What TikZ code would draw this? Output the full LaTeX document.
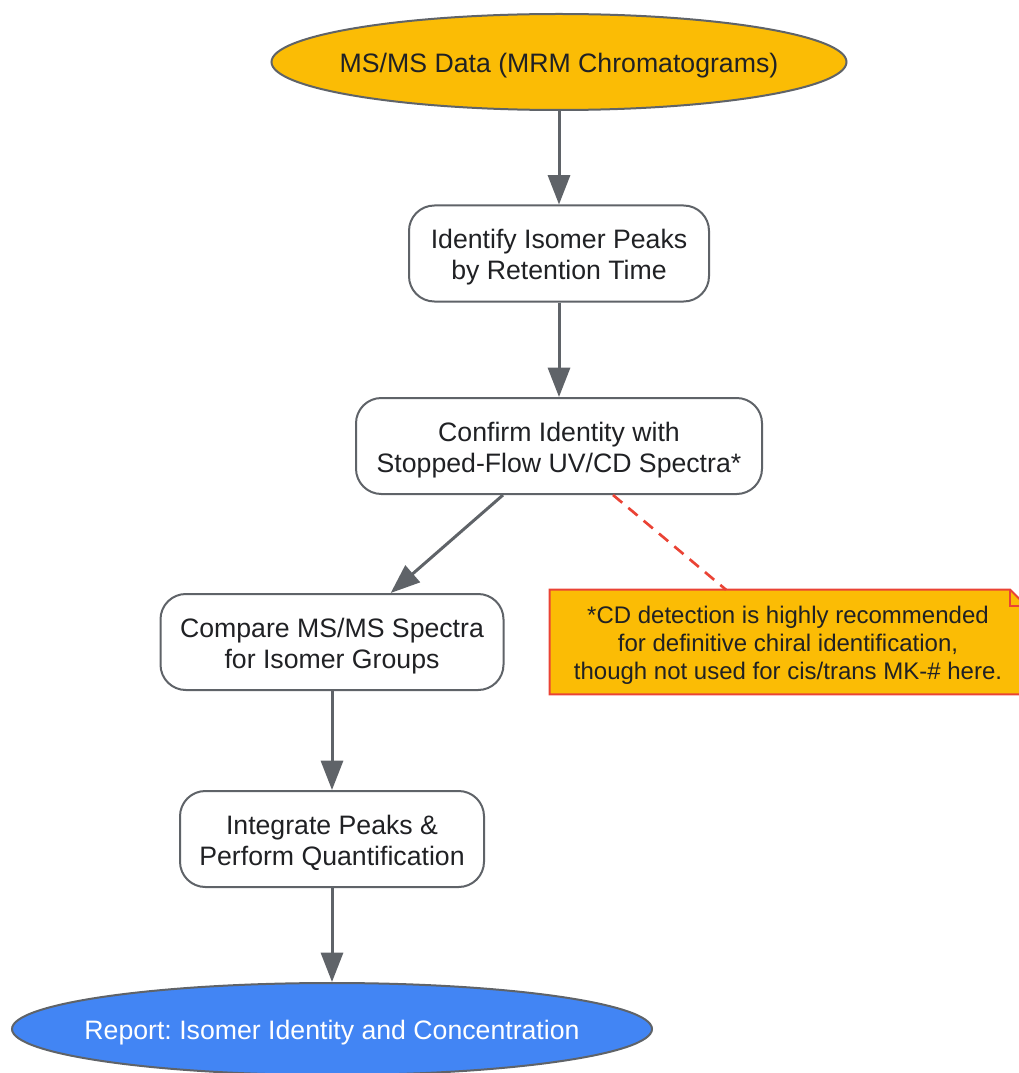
\documentclass[tikz,border=0pt]{standalone}
\usepackage{fontspec}
\setmainfont{Liberation Sans}
\frenchspacing
\usetikzlibrary{shapes.geometric,arrows.meta,backgrounds}
\definecolor{gyellow}{HTML}{FBBC05}
\definecolor{gblue}{HTML}{4285F4}
\definecolor{ggray}{HTML}{5F6368}
\definecolor{gred}{HTML}{EA4335}
\definecolor{gtext}{HTML}{202124}
\newcommand{\tup}{\rule{0pt}{20.5pt}}% pushes the text block a bit down

\begin{document}
\begin{tikzpicture}[x=0.75pt,y=-0.75pt,
  procbox/.style={draw=ggray,line width=1.5pt,fill=white,rounded corners=19pt,minimum height=72pt,inner sep=0pt,align=center,text=gtext,font=\fontsize{20}{23.25}\selectfont},
  term/.style={ellipse,draw=ggray,line width=1.5pt,minimum height=72pt,inner ysep=0pt,text=gtext,font=\fontsize{20}{23.25}\selectfont},
  flow/.style={draw=ggray,line width=2.25pt,-{Triangle[length=22pt,width=16.5pt]}}]

\useasboundingbox (0,0) rectangle (1019,1073);

\node[term,fill=gyellow,minimum width=430.5pt,inner xsep=-12pt] (data) at (559,62) {\tup MS/MS Data (MRM Chromatograms)};
\node[procbox,minimum width=225pt] (ident) at (559,253.5) {\tup Identify Isomer Peaks\\by Retention Time};
\node[procbox,minimum width=304.5pt] (confirm) at (559,446) {\tup Confirm Identity with\\Stopped-Flow UV/CD Spectra*};
\node[procbox,minimum width=257.25pt] (compare) at (332,642) {\tup Compare MS/MS Spectra\\for Isomer Groups};
\node[procbox,minimum width=228pt] (integ) at (332,839) {\tup Integrate Peaks \&\\Perform Quantification};
\node[term,fill=gblue,text=white,minimum width=480pt,minimum height=69pt,inner xsep=-16pt] (report) at (332,1029) {\tup Report: Isomer Identity and Concentration};

% footnote
\node[minimum width=357pt,minimum height=78pt,inner sep=0pt,align=center,text=gtext,font=\fontsize{18}{21}\selectfont] (note) at (788,642)
  {\rule{0pt}{18pt}*CD detection is highly recommended\\for definitive chiral identification,\\though not used for cis/trans MK-\# here.};
\begin{scope}[on background layer]
\filldraw[fill=gyellow,draw=gred,line width=1.5pt] (note.south west)--(note.north west)--([xshift=-12pt]note.north east)--([yshift=-12pt]note.north east)--(note.south east)--cycle;
\draw[gred,line width=1.5pt] ([xshift=-12pt]note.north east)--([xshift=-12pt,yshift=-12pt]note.north east)--([yshift=-12pt]note.north east);
\end{scope}

\draw[flow] (data)--(ident);
\draw[flow] (ident)--(confirm);
\draw[flow] ([xshift=-42pt]confirm.south)--([xshift=44pt]compare.north);
\draw[flow] (compare)--(integ);
\draw[flow] (integ)--(report);
\draw[gred,line width=2pt,dash pattern=on 9pt off 6pt] ([xshift=40.5pt]confirm.south)--([xshift=-46.5pt]note.north);%note link

\end{tikzpicture}
\end{document}
